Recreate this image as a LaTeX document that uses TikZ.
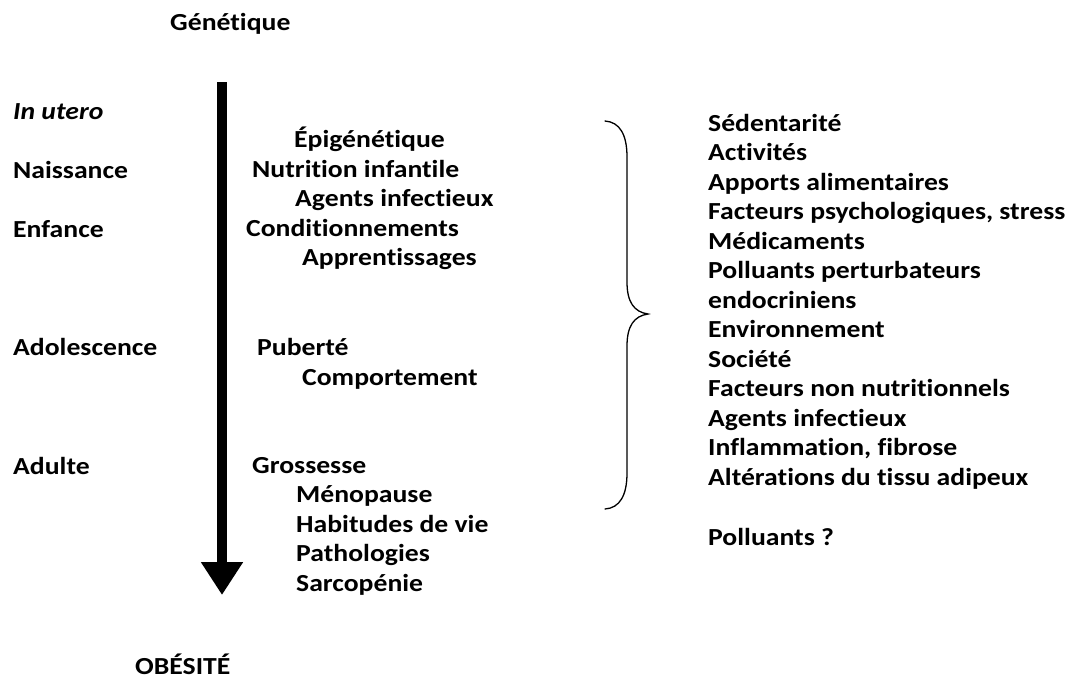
\documentclass[tikz,border=0pt]{standalone}
\usepackage{fontspec}
\setmainfont{Carlito}[FakeStretch=1.13,Ligatures={NoCommon}]
\usetikzlibrary{arrows.meta}
\tikzset{
  lbl/.style={anchor=base west, inner sep=0pt, font=\fontsize{24.5}{29.5}\selectfont\bfseries},
  ilbl/.style={lbl, font=\fontsize{24.5}{29.5}\selectfont\bfseries\itshape},
  timearrow/.style={line width=10pt, -{Triangle[length=33pt,width=40pt]}},
  bracestyle/.style={line width=1.3pt, line cap=round}
}
\begin{document}
\begin{tikzpicture}[x=1pt,y=-1pt]
\useasboundingbox (0,0) rectangle (1078,681);
% top and bottom
\node[lbl] (gen) at (170,30) {Génétique};
\node[lbl] (obe) at (135,674) {OBÉSITÉ};
% arrow
\coordinate (atop) at (222,82);
\coordinate (atip) at (222,595);
\draw[timearrow] (atop) -- (atip);
% left column
\node[ilbl] (utero) at (13,119) {In utero};
\node[lbl] (nais) at (13,178) {Naissance};
\node[lbl] (enf) at (13,237) {Enfance};
\node[lbl] (ado) at (13,355) {Adolescence};
\node[lbl] (adu) at (13,474) {Adulte};
% middle column
\node[lbl] (epi) at (294,147) {Épigénétique};
\node[lbl] (nutr) at (252,177) {Nutrition infantile};
\node[lbl] (agm) at (295,206.5) {Agents infectieux};
\node[lbl] (cond) at (246,236) {Conditionnements};
\node[lbl] (appr) at (302,265.5) {Apprentissages};
\node[lbl] (pub) at (257,355) {Puberté};
\node[lbl] (comp) at (302,385) {Comportement};
\node[lbl] (gro) at (252,473) {Grossesse};
\node[lbl] (meno) at (296,502.5) {Ménopause};
\node[lbl] (hab) at (296,532) {Habitudes de vie};
\node[lbl] (path) at (296,561.5) {Pathologies};
\node[lbl] (sarc) at (296,591) {Sarcopénie};
% brace
\draw[bracestyle] (605,121) .. controls (620,122) and (627,135) .. (627,157)
  -- (627,282) .. controls (627,302) and (634,312) .. (648,314)
  .. controls (634,316) and (627,326) .. (627,346)
  -- (627,473) .. controls (627,495) and (620,508) .. (605,509);
% right column
\node[lbl] (r1) at (708,131) {Sédentarité};
\node[lbl] (r2) at (708,160.5) {Activités};
\node[lbl] (r3) at (708,190) {Apports alimentaires};
\node[lbl] (r4) at (708,219.5) {Facteurs psychologiques, stress};
\node[lbl] (r5) at (708,249) {Médicaments};
\node[lbl] (r6) at (708,278.5) {Polluants perturbateurs};
\node[lbl] (r7) at (708,308) {endocriniens};
\node[lbl] (r8) at (708,337.5) {Environnement};
\node[lbl] (r9) at (708,367) {Société};
\node[lbl] (r10) at (708,396.5) {Facteurs non nutritionnels};
\node[lbl] (r11) at (708,426) {Agents infectieux};
\node[lbl] (r12) at (708,455.5) {Inflammation, fibrose};
\node[lbl] (r13) at (708,485) {Altérations du tissu adipeux};
\node[lbl] (r14) at (708,545) {Polluants ?};
\end{tikzpicture}
\end{document}
